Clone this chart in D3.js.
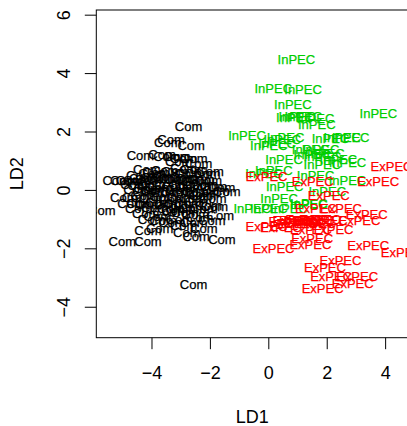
<!DOCTYPE html>
<html>
<head>
<meta charset="utf-8">
<script src="https://cdn.jsdelivr.net/npm/d3@7"></script>
<style>
    body { margin: 0; background: #fff; overflow: hidden; }
    svg { display: block; font-family: "Liberation Sans", Arial, sans-serif; }
</style>
</head>
<body>
<svg id="svgLda" width="407" height="426"></svg>
<script>
// LD scores, one label per sample
const comLD1 = [-2.73, -3.33, -3.44, -2.64, -4.38, -3.64, -3.47, -3.13, -2.90, -2.55, -3.07, -2.39,
    -4.16, -3.98, -2.90, -1.99, -2.39, -2.10,
    -5.21, -4.95, -4.75, -4.51, -4.30, -4.10, -3.90, -3.70, -3.50, -3.30, -3.10, -2.90, -2.70, -2.50, -2.30, -2.05,
    -4.60, -4.35, -4.00, -3.75, -3.45, -3.20, -2.95, -2.70, -2.45, -1.88, -1.60,
    -1.42, -4.50, -4.20, -3.90, -3.55, -3.25, -2.85, -2.50, -2.15, -1.80,
    -4.95, -4.55, -4.25, -3.95, -3.60, -3.30, -3.00, -2.60, -2.25, -1.90,
    -4.40, -4.10, -3.75, -3.45, -3.10, -2.75, -2.40, -2.05,
    -5.70, -4.44, -4.20, -3.80, -3.50, -3.20, -2.85, -2.21, -1.64, -2.50,
    -1.93, -2.55, -3.60, -3.05, -2.21, -2.79, -4.12, -3.72,
    -2.47, -1.59, -5.00, -4.12, -2.56,
    -4.40, -3.85, -3.55, -3.20, -2.75, -2.55, -2.20, -4.15, -3.05, -2.35,
    -4.70, -3.90, -3.35, -2.95, -2.60, -1.85, -4.00, -3.30, -2.90, -2.35];
const comLD2 = [2.17, 1.74, 1.62, 1.52, 1.18, 1.23, 1.16, 1.14, 1.08, 1.08, 0.97, 0.91,
    0.71, 0.57, 0.74, 0.63, 0.57, 0.55,
    0.34, 0.31, 0.32, 0.34, 0.40, 0.36, 0.42, 0.38, 0.45, 0.40, 0.35, 0.42, 0.38, 0.30, 0.36, 0.33,
    0.20, 0.15, 0.18, 0.10, 0.20, 0.12, 0.18, 0.08, 0.15, 0.11, 0.10,
    -0.06, 0.00, -0.05, -0.02, -0.08, -0.05, -0.10, -0.05, -0.08, -0.02,
    -0.26, -0.25, -0.20, -0.30, -0.22, -0.32, -0.25, -0.28, -0.20, -0.30,
    -0.45, -0.50, -0.42, -0.50, -0.45, -0.48, -0.40, -0.52,
    -0.71, -0.63, -0.80, -0.91, -0.75, -0.70, -0.78, -0.63, -0.86, -0.85,
    -1.05, -1.12, -1.05, -1.00, -1.31, -1.45, -1.40, -1.31,
    -1.60, -1.68, -1.75, -1.75, -3.23,
    0.50, 0.60, 0.65, 0.62, 0.55, 0.70, 0.20, 0.05, 0.02, -0.15,
    -0.45, -0.60, -0.62, -0.62, -0.65, -0.55, -1.00, -1.10, -1.20, -0.95];

const inpecLD1 = [0.96, 0.17, 1.19, 0.84, 0.91, 0.99, 1.62, 1.66, 1.20, 3.77,
    -0.73, 0.02, 0.48, 0.59, 0.30, 2.13, 2.53, 2.82,
    1.45, 1.79, 1.51, 1.85, 1.97,
    0.54, 1.85, 2.71, 2.40,
    0.19, -0.15, 1.62, 2.71,
    0.56, 2.02, 0.37, 1.39,
    -0.55, 0.02, 0.71, 1.39];
const inpecLD2 = [4.47, 3.48, 3.45, 2.93, 2.49, 2.53, 2.45, 2.24, 2.50, 2.63,
    1.85, 1.53, 1.74, 1.80, 1.60, 1.77, 1.79, 1.79,
    1.40, 1.40, 1.23, 1.14, 1.26,
    1.03, 0.86, 0.95, 1.03,
    0.68, 0.57, 0.51, 0.34,
    0.11, -0.06, -0.29, -0.46,
    -0.63, -0.63, -0.63, -0.51];

const expecLD1 = [4.22, -0.06, 1.52, 3.76, 2.07, 1.63, 2.49, 3.37, 3.12,
    -0.06, 0.43, 0.72, 0.86, 1.08, 1.31, 1.54, 1.77, 2.00, 1.00, 1.25, 1.60, 1.46, 2.20,
    1.50, 1.44, 0.18, 3.42, 4.57, 2.47, 1.94, 2.15, 3.04, 2.89, 1.86];
const expecLD2 = [0.80, 0.46, 0.29, 0.29, -0.20, -0.62, -0.63, -0.84, -1.03,
    -1.25, -1.29, -1.08, -1.03, -1.03, -1.00, -1.05, -1.02, -1.03, -1.15, -1.12, -1.15, -1.37, -1.37,
    -1.66, -1.88, -2.00, -1.91, -2.15, -2.40, -2.66, -2.95, -2.95, -3.20, -3.37];

const xTicks = [-4, -2, 0, 2, 4];
const yTicks = [-4, -2, 0, 2, 4, 6];

const groups = [
    {name: "Com", color: "#000000", ld1: comLD1, ld2: comLD2},
    {name: "InPEC", color: "#00CD00", ld1: inpecLD1, ld2: inpecLD2},
    {name: "ExPEC", color: "#FF0000", ld1: expecLD1, ld2: expecLD2}
];

const svg = d3.select("#svgLda");
const plot = {left: 96.3, top: 10, right: 408.2, bottom: 337.7};

const x = d3.scaleLinear().domain([-5.89, 4.79]).range([plot.left, plot.right]);
const y = d3.scaleLinear().domain([-5.06, 6.16]).range([plot.bottom, plot.top]);

svg.append("defs").append("clipPath")
    .attr("id", "plotClip")
    .append("rect")
    .attr("x", plot.left)
    .attr("y", plot.top)
    .attr("width", plot.right - plot.left)
    .attr("height", plot.bottom - plot.top);

// text labels, drawn like R's text()
const points = groups.flatMap(g => g.ld1.map((v, i) => ({x: v, y: g.ld2[i], name: g.name, color: g.color})));

svg.append("g")
    .attr("clip-path", "url(#plotClip)")
    .selectAll("text")
    .data(points)
    .enter().append("text")
        .attr("x", d => x(d.x))
        .attr("y", d => y(d.y))
        .attr("dy", "0.35em")
        .attr("text-anchor", "middle")
        .attr("font-size", 13)
        .attr("fill", d => d.color)
        .attr("stroke", d => d.color)
        .attr("stroke-width", 0.25)
        .text(d => d.name);

// axes
const xAxis = svg.append("g")
    .attr("transform", "translate(0," + plot.bottom + ")")
    .call(d3.axisBottom(x).tickValues(xTicks).tickSize(11.5).tickFormat(d3.format("d")));
xAxis.select(".domain").remove();
xAxis.selectAll("line").attr("stroke", "#000");
xAxis.selectAll("text")
    .attr("y", 35)
    .attr("dy", "0.35em")
    .attr("font-size", 18)
    .attr("font-family", null)
    .attr("fill", "#000");

const yAxis = svg.append("g")
    .attr("transform", "translate(" + plot.left + ",0)")
    .call(d3.axisLeft(y).tickValues(yTicks).tickSize(11.5).tickFormat(d3.format("d")));
yAxis.select(".domain").remove();
yAxis.selectAll("line").attr("stroke", "#000");
yAxis.selectAll("text")
    .attr("x", 0)
    .attr("dy", "0.35em")
    .attr("transform", "translate(-33,0) rotate(-90)")
    .attr("text-anchor", "middle")
    .attr("font-size", 18)
    .attr("font-family", null)
    .attr("fill", "#000");

// box
svg.append("rect")
    .attr("x", plot.left)
    .attr("y", plot.top)
    .attr("width", plot.right - plot.left)
    .attr("height", plot.bottom - plot.top)
    .attr("fill", "none")
    .attr("stroke", "#000")
    .attr("stroke-width", 1);

// axis titles
svg.append("text")
    .attr("x", (plot.left + plot.right) / 2)
    .attr("y", 416.7)
    .attr("dy", "0.35em")
    .attr("text-anchor", "middle")
    .attr("font-size", 18)
    .text("LD1");

svg.append("text")
    .attr("transform", "translate(17," + (plot.top + plot.bottom) / 2 + ") rotate(-90)")
    .attr("dy", "0.35em")
    .attr("text-anchor", "middle")
    .attr("font-size", 18)
    .text("LD2");
</script>
</body>
</html>
